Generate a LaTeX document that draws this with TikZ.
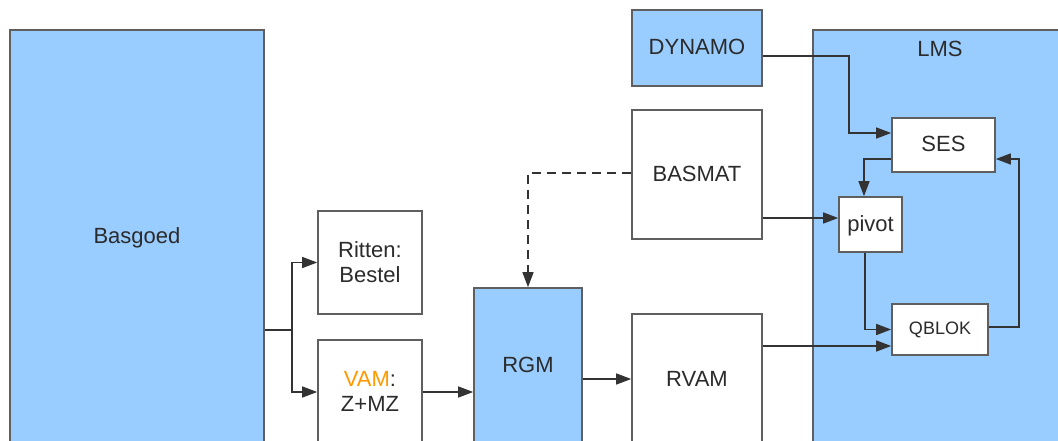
\documentclass[tikz,border=0pt]{standalone}
\usepackage{fontspec}
\setmainfont{Liberation Sans}
\usetikzlibrary{arrows.meta}

\definecolor{lichtblauw}{HTML}{99CCFF}
\definecolor{randgrijs}{HTML}{5F5F5F}
\definecolor{tekstgrijs}{HTML}{2B2B2B}
\definecolor{oranje}{HTML}{FF9900}

\begin{document}
\begin{tikzpicture}[
					x = 1pt,
					y = -1pt,
					bx/.style = {
						draw = randgrijs,
						line width = 1.6pt,
						fill = white,
						rectangle,
						inner sep = 0
					},
					bb/.style = {
						bx,
						fill = lichtblauw
					},
					tx/.style = {
						text = tekstgrijs,
						align = center,
						font = \fontsize{22}{25}\selectfont
					},
					ar/.style = {
						draw = black!80,
						line width = 1.4pt,
						-{Triangle[length = 15pt, width = 11pt]}
					}
				]
			\useasboundingbox (0, 0) rectangle (1058, 441);
			\clip (0, 0) rectangle (1058, 441);

			% linker kant
			\node [bb, minimum width = 254, minimum height = 430] (basgoedbox) at (137, 245) {};
			\node [tx] (basgoed) at (137, 238) {Basgoed};

			\node [bx, minimum width = 104, minimum height = 103] (rittenbox) at (370, 262.5) {};
			\node [tx] (ritten) at (370, 262) {Ritten:\\Bestel};

			\node [bx, minimum width = 104, minimum height = 130] (vambox) at (370, 405) {};
			\node [tx] (vam) at (370, 391) {\textcolor{oranje}{VAM}:\\Z+MZ};

			\node [bb, minimum width = 108, minimum height = 182] (rgmbox) at (528, 379) {};
			\node [tx] (rgm) at (528, 365) {RGM};

			% midden
			\node [bb, minimum width = 130, minimum height = 76] (dynamo) at (697, 48) {};
			\node [tx] (dynamotxt) at (697, 47) {DYNAMO};

			\node [bx, minimum width = 130, minimum height = 129] (basmat) at (697, 174.5) {};
			\node [tx] (basmattxt) at (697, 174) {BASMAT};

			\node [bx, minimum width = 130, minimum height = 156] (rvambox) at (697, 392) {};
			\node [tx] (rvam) at (697, 379) {RVAM};

			% LMS
			\node [bb, minimum width = 267, minimum height = 440] (lmsbox) at (946.5, 250) {};
			\node [tx] (lms) at (940, 49) {LMS};

			\node [bx, minimum width = 103, minimum height = 54] (ses) at (943.5, 145) {};
			\node [tx] (sestxt) at (943.5, 144) {SES};

			\node [bx, minimum width = 63, minimum height = 55] (pivot) at (870.5, 224.5) {};
			\node [tx] (pivottxt) at (870.5, 226) {pivot};

			\node [bx, minimum width = 96, minimum height = 51] (qblok) at (940, 329.5) {};
			\node [tx, font = \fontsize{18}{21}\selectfont] (qbloktxt) at (940, 330) {QBLOK};

			% verbindingen
			\draw [ar] ([yshift = -85pt]basgoedbox.east) -- ++(27, 0) |- (rittenbox.west);
			\draw [ar] ([yshift = -85pt]basgoedbox.east) -- ++(27, 0) |- ([yshift = 13pt]vambox.west);
			\draw [ar] ([yshift = 13pt]vambox.east) -- ([yshift = -13pt]rgmbox.west);
			\draw [ar] (rgmbox.east) -- ([yshift = 13pt]rvambox.west);
			\draw [ar, dashed, dash pattern = on 9pt off 6pt] ([yshift = 1.5pt]basmat.west) -| (rgmbox.north);

			\draw [ar] ([yshift = -8pt]dynamo.east) -- ++(86, 0) |- ([yshift = 12pt]ses.west);
			\draw [ar] ([yshift = -43.5pt]basmat.east) -- ([yshift = 6.5pt]pivot.west);
			\draw [ar] ([yshift = 46pt]rvambox.east) -- ([yshift = -16.5pt]qblok.west);
			\draw [ar] ([yshift = -14pt]ses.west) -| ([xshift = -6.5pt]pivot.north);
			\draw [ar] ([xshift = -5.5pt]pivot.south) |- (qblok.west);
			\draw [ar] ([yshift = 2.5pt]qblok.east) -- ++(30, 0) |- ([yshift = -14pt]ses.east);
		\end{tikzpicture}
\end{document}
